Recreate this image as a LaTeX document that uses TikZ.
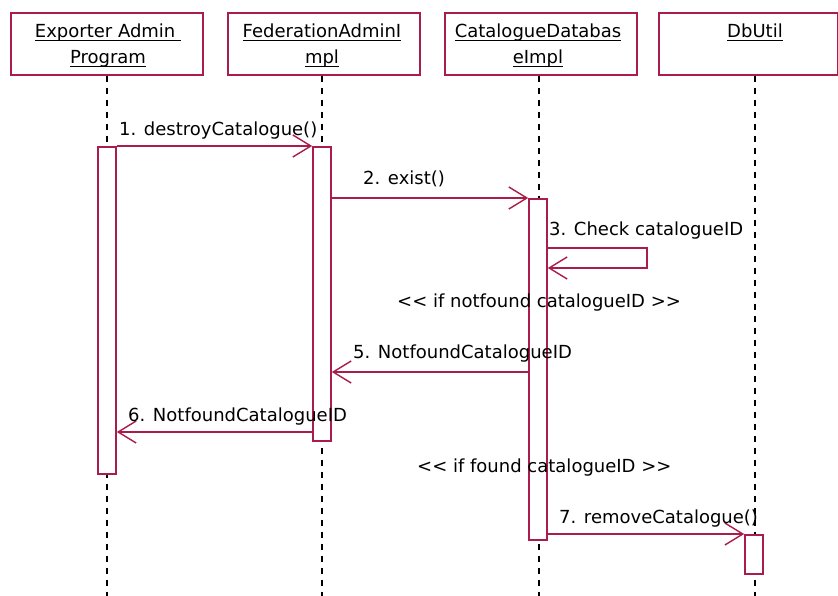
\documentclass[tikz,border=0pt]{standalone}
\usepackage{fontspec}
\setmainfont{DejaVu Sans}
\usetikzlibrary{arrows.meta}
\definecolor{umlred}{RGB}{170,28,74}
% underline a word just under its baseline
\newcommand\undl[1]{\setbox0=\hbox{#1}\rlap{\rule[-3pt]{\wd0}{0.9pt}}\box0}

\begin{document}
\begin{tikzpicture}[x=1pt,y=-1pt,
  every node/.style={font=\fontsize{18}{20}\selectfont},
  objbox/.style={draw=umlred, line width=1.8pt, fill=white, minimum width=192pt,
    minimum height=62pt, inner sep=0pt, anchor=north west},
  title/.style={anchor=base, inner sep=0pt},
  lifeline/.style={draw=black, line width=1.3pt, dash pattern=on 6pt off 6pt},
  actbar/.style={draw=umlred, line width=1.6pt, fill=white, minimum width=18pt,
    inner sep=0pt, anchor=north},
  msg/.style={draw=umlred, line width=1.4pt,
    -{Straight Barb[length=18pt,width=22pt]}},
  lbl/.style={anchor=base west, inner sep=0pt}]

\useasboundingbox (0,0) rectangle (838,596);

% object heads
\node[objbox] (o1) at (10,12) {};
\node[objbox] (o2) at (227,12) {};
\node[objbox] (o3) at (444,12) {};
\node[objbox, minimum width=179pt] (o4) at (658,12) {};

\node[title] (t1a) at (108,38) {\undl{Exporter Admin\ }};
\node[title] (t1b) at (108,64) {\undl{Program}};
\node[title] (t2a) at (322,38) {\undl{FederationAdminI}};
\node[title] (t2b) at (322,64) {\undl{mpl}};
\node[title] (t3a) at (538,38) {\undl{CatalogueDatabas}};
\node[title] (t3b) at (538,64) {\undl{eImpl}};
\node[title] (t4a) at (755,38) {\undl{DbUtil}};

% lifelines
\coordinate (e1) at (107,596);
\coordinate (e2) at (322,596);
\coordinate (e3) at (539,596);
\coordinate (e4) at (755,596);
\draw[lifeline] (o1.south -| e1) -- (e1);
\draw[lifeline] (o2.south -| e2) -- (e2);
\draw[lifeline] (o3.south -| e3) -- (e3);
\draw[lifeline] (o4.south -| e4) -- (e4);

% activation bars
\node[actbar, minimum height=327pt] (b1) at (107,146) {};
\node[actbar, minimum height=294pt] (b2) at (322,146) {};
\node[actbar, minimum height=341pt] (b3) at (538,198) {};
\node[actbar, minimum height=39pt]  (b4) at (754,534) {};

% messages
\draw[msg] (b1.north east) -- (b2.north west);
\draw[msg] (b2.east |- b3.north) -- (b3.north west);
\draw[msg] (b3.east |- 0,248) -- (647,248) -- (647,268) -- (b3.east |- 0,268);
\draw[msg] (b3.west |- 0,372) -- (b2.east |- 0,372);
\draw[msg] (b2.west |- 0,432) -- (b1.east |- 0,432);
\draw[msg] (b3.east |- b4.north) -- (b4.north west);

% message labels
\node[lbl] (m1) at (119,136) {1. destroyCatalogue()};
\node[lbl] (m2) at (363,185) {2. exist()};
\node[lbl] (m3) at (549,236) {3. Check catalogueID};
\node[lbl] (g1) at (397,307) {<\kern0pt< if notfound catalogueID >\kern0pt>};
\node[lbl] (m5) at (353,358) {5. NotfoundCatalogueID};
\node[lbl] (m6) at (128,421) {6. NotfoundCatalogueID};
\node[lbl] (g2) at (417,472) {<\kern0pt< if found catalogueID >\kern0pt>};
\node[lbl] (m7) at (559,523) {7. removeCatalogue()};
\end{tikzpicture}
\end{document}
